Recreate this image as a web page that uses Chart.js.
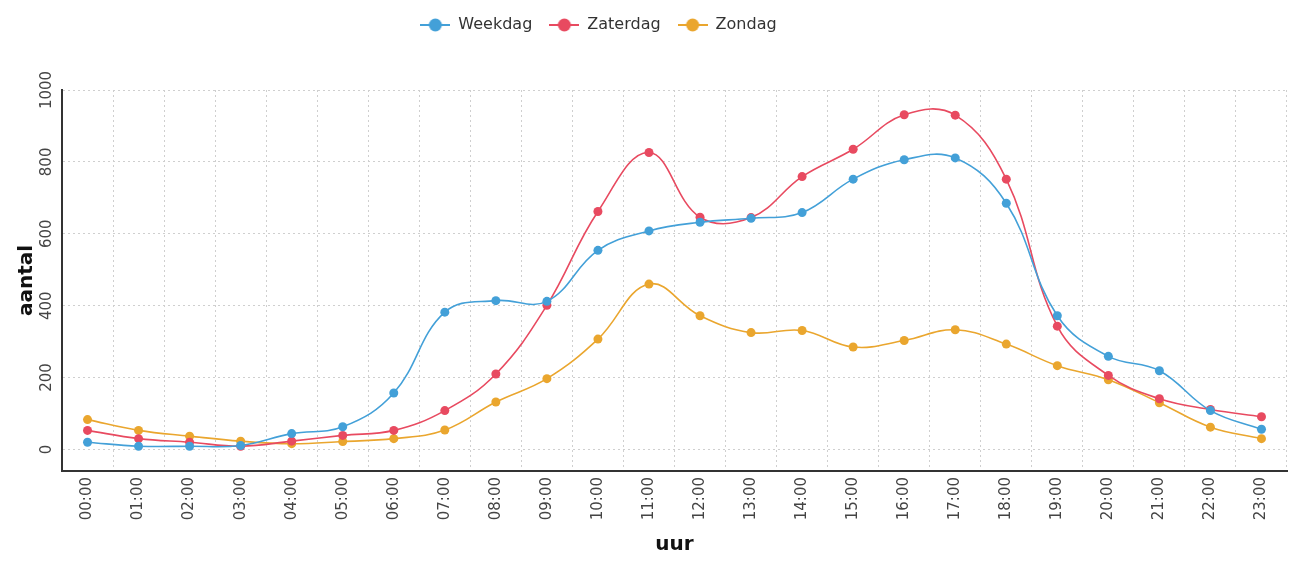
<!DOCTYPE html>
<html>
<head>
<meta charset="utf-8">
<script src="https://cdn.jsdelivr.net/npm/chart.js@4/dist/chart.umd.min.js"></script>
<style>
  html, body { margin: 0; padding: 0; background: #fff; }
  #wrap { width: 1292px; height: 561px; }
</style>
</head>
<body>
<div id="wrap"><canvas id="chart"></canvas></div>
<script>
// Data
const hours = ['00:00','01:00','02:00','03:00','04:00','05:00','06:00','07:00','08:00','09:00','10:00','11:00',
               '12:00','13:00','14:00','15:00','16:00','17:00','18:00','19:00','20:00','21:00','22:00','23:00'];
const weekdag  = [20, 9, 9, 11, 44, 63, 157, 382, 414, 412, 554, 608, 632, 643, 659, 752, 806, 811, 685, 372, 259, 219, 108, 56];
const zaterdag = [53, 30, 20, 9, 23, 39, 53, 108, 210, 401, 662, 826, 646, 645, 759, 835, 931, 930, 752, 343, 206, 141, 111, 91];
const zondag   = [83, 53, 37, 23, 16, 22, 30, 54, 132, 197, 307, 460, 372, 325, 331, 285, 303, 333, 293, 233, 194, 130, 62, 30];
const yTicks   = [0, 200, 400, 600, 800, 1000];

const seriesNames  = ['Weekdag', 'Zaterdag', 'Zondag'];
const seriesColors = ['#43a0d8', '#e84a60', '#eaa62e'];

// legend icon: short line with a dot on it
function legendIcon(color) {
  const c = document.createElement('canvas');
  c.width = 30; c.height = 14;
  const g = c.getContext('2d');
  g.strokeStyle = color;
  g.lineWidth = 2;
  g.beginPath(); g.moveTo(0, 7); g.lineTo(30, 7); g.stroke();
  g.fillStyle = color;
  g.beginPath(); g.arc(15, 7, 6.5, 0, Math.PI * 2); g.fill();
  return c;
}

const dataSets = [weekdag, zaterdag, zondag].map((d, i) => ({
  label: seriesNames[i],
  data: d,
  borderColor: seriesColors[i],
  backgroundColor: seriesColors[i],
  borderWidth: 1.6,
  pointRadius: 4.5,
  pointBorderWidth: 0,
  pointBackgroundColor: seriesColors[i],
  tension: 0.4,
  fill: false
}));

// push the legend a bit left and leave room under it
const layoutTweak = {
  id: 'layoutTweak',
  beforeInit(chart) {
    const fit = chart.legend.fit;
    chart.legend.fit = function() {
      fit.call(this);
      this.height = 90;
    };
  },
  afterLayout(chart) {
    chart.legend.left -= 45;
    chart.legend.right -= 45;
  }
};

const gridDots = { color: '#cfcfcf', lineWidth: 1, drawTicks: false };
const axisBorder = { display: true, color: '#333', width: 2, dash: [2, 3] };

new Chart(document.getElementById('chart'), {
  type: 'line',
  data: { labels: hours, datasets: dataSets },
  plugins: [layoutTweak],
  options: {
    responsive: true,
    maintainAspectRatio: false,
    animation: false,
    layout: { padding: { left: 0, right: 5, top: 0, bottom: 0 } },
    plugins: {
      legend: {
        position: 'top',
        labels: {
          usePointStyle: true,
          pointStyleWidth: 30,
          padding: 17,
          color: '#333',
          font: { family: 'DejaVu Sans', size: 16 },
          generateLabels(chart) {
            return chart.data.datasets.map((ds, i) => ({
              text: ds.label,
              fillStyle: ds.borderColor,
              strokeStyle: ds.borderColor,
              lineWidth: 0,
              pointStyle: legendIcon(ds.borderColor),
              hidden: !chart.isDatasetVisible(i),
              datasetIndex: i,
              fontColor: '#333'
            }));
          }
        }
      },
      tooltip: { enabled: false }
    },
    scales: {
      x: {
        offset: true,
        grid: Object.assign({ offset: true }, gridDots),
        border: axisBorder,
        ticks: {
          minRotation: 90,
          maxRotation: 90,
          padding: 6,
          autoSkip: false,
          color: '#444',
          font: { family: 'DejaVu Sans', size: 15 }
        },
        title: {
          display: true,
          text: 'uur',
          color: '#111',
          padding: { top: 0, bottom: 4 },
          font: { family: 'DejaVu Sans', size: 20, weight: 'bold' }
        },
        afterFit(s) { s.height = 90; }
      },
      y: {
        min: -60,
        max: 1000,
        grid: gridDots,
        border: axisBorder,
        afterBuildTicks(s) {
          s.ticks = yTicks.map(v => ({ value: v }));
        },
        ticks: {
          minRotation: 90,
          maxRotation: 90,
          crossAlign: 'center',
          padding: -4,
          color: '#444',
          font: { family: 'DejaVu Sans', size: 15 },
          callback: v => String(v)
        },
        title: {
          display: true,
          text: 'aantal',
          color: '#111',
          padding: { top: 15, bottom: 0 },
          font: { family: 'DejaVu Sans', size: 20, weight: 'bold' }
        },
        afterFit(s) { s.width = 62; }
      }
    }
  }
});
</script>
</body>
</html>
